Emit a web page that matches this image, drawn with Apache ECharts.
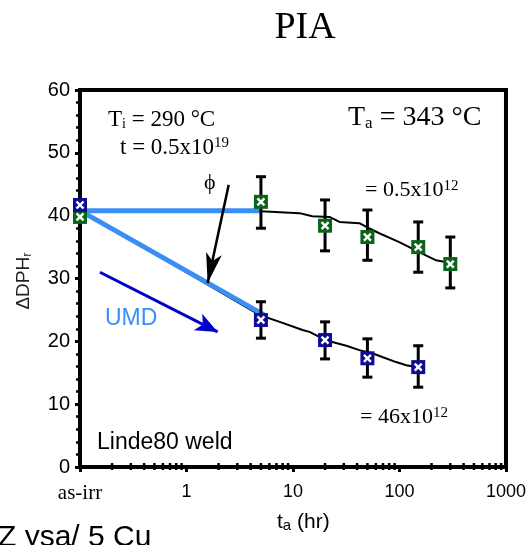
<!DOCTYPE html>
<html><head><meta charset="utf-8">
<script src="https://cdn.jsdelivr.net/npm/echarts@6/dist/echarts.min.js"></script>
<style>html,body{margin:0;padding:0;background:#fff}#c{width:529px;height:545px}</style>
</head><body><div id="c"></div>
<script>
// ---- data ----
const xTicks = [0.1, 1, 10, 100, 1000];
const xTickLabels = ['as-irr', '1', '10', '100', '1000'];
const xMinorTicks = [0.2,0.3,0.4,0.5,0.6,0.7,0.8,0.9,2,3,4,5,6,7,8,9,20,30,40,50,60,70,80,90,200,300,400,500,600,700,800,900];

// low dose rate (= 0.5x10^12), green
const lowT  = [0.1, 5, 20, 50, 150, 300];
const lowY  = [39.8, 42.2, 38.4, 36.6, 35.0, 32.3];
const lowLo = [null, 38.0, 34.4, 32.9, 31.0, 28.5];
const lowHi = [null, 46.2, 42.5, 40.9, 39.0, 36.6];

// high dose rate (= 46x10^12), blue
const highT  = [0.1, 5, 20, 50, 150];
const highY  = [41.7, 23.4, 20.2, 17.3, 15.9];
const highLo = [null, 20.5, 17.2, 14.3, 12.7];
const highHi = [null, 26.3, 23.1, 20.4, 19.3];

// model curves (black)
const lowFitT = [0.1, 5, 11.5, 15.2, 22, 27.3, 42, 48.9, 64.6, 99.6, 153, 221, 292];
const lowFitY = [40.9, 40.7, 40.4, 39.9, 39.8, 39.0, 38.8, 38.2, 37.2, 35.8, 34.2, 32.9, 32.5];
const highFitT = [0.1, 4.85, 7.5, 12.3, 14.3, 17.7, 23.4, 31.7, 42, 55.6, 68.9, 93, 116, 144];
const highFitY = [40.9, 24.2, 23.1, 21.8, 21.5, 20.7, 19.9, 19.3, 18.6, 18.1, 17.5, 16.7, 16.2, 15.9];

// UMD (light blue)
const umdFlatT = [0.1, 5];
const umdFlatY = [40.8, 40.8];
const umdDiagT = [0.1, 5.6];
const umdDiagY = [40.8, 24.0];

// annotation arrows [x, y]
const phiArrow = [[2.49, 44.9], [1.58, 29.3]];
const umdArrow = [[0.154, 31.0], [1.96, 21.5]];

// ---- build ----
const zip = (a, b) => a.map((v, i) => [v, b[i]]);
const pts = (t, y, lo, hi) => t.map((v, i) => [v, y[i], lo[i] == null ? NaN : lo[i], hi[i] == null ? NaN : hi[i]]);

function markerRender(color) {
  return function (params, api) {
    const x = api.value(0), y = api.value(1), lo = api.value(2), hi = api.value(3);
    const p = api.coord([x, y]);
    const ch = [];
    if (isFinite(lo) && isFinite(hi)) {
      const pl = api.coord([x, lo]), ph = api.coord([x, hi]);
      const ls = { stroke: '#000', lineWidth: 3 };
      ch.push({ type: 'line', shape: { x1: p[0], y1: ph[1], x2: p[0], y2: pl[1] }, style: ls });
      ch.push({ type: 'line', shape: { x1: p[0] - 5, y1: ph[1], x2: p[0] + 5, y2: ph[1] }, style: ls });
      ch.push({ type: 'line', shape: { x1: p[0] - 5, y1: pl[1], x2: p[0] + 5, y2: pl[1] }, style: ls });
    }
    ch.push({ type: 'rect', shape: { x: p[0] - 7, y: p[1] - 7, width: 14, height: 14 }, style: { fill: color } });
    const ws = { stroke: '#fff', lineWidth: 2.4 };
    ch.push({ type: 'line', shape: { x1: p[0] - 3.5, y1: p[1] - 3.5, x2: p[0] + 3.5, y2: p[1] + 3.5 }, style: ws });
    ch.push({ type: 'line', shape: { x1: p[0] + 3.5, y1: p[1] - 3.5, x2: p[0] - 3.5, y2: p[1] + 3.5 }, style: ws });
    return { type: 'group', children: ch };
  };
}

function minorTickRender(params, api) {
  const p = api.coord([api.value(0), 0]);
  return { type: 'line', shape: { x1: p[0], y1: p[1] - 4, x2: p[0], y2: p[1] + 3 }, style: { stroke: '#000', lineWidth: 2.5 } };
}

const serif = 'Liberation Serif';
const sans = 'Liberation Sans';

const chart = echarts.init(document.getElementById('c'));
chart.setOption({
  animation: false,
  backgroundColor: '#fff',
  title: {
    text: 'PIA', left: 300, top: 4, textAlign: 'center',
    textStyle: { fontFamily: serif, fontSize: 38, fontWeight: 'normal', color: '#000' }
  },
  grid: { left: 80, right: 22, top: 90, bottom: 78, show: true, borderColor: '#000', borderWidth: 4 },
  xAxis: {
    type: 'log', logBase: 10, min: 0.1, max: 1000,
    axisLine: { lineStyle: { color: '#000', width: 4 } },
    axisTick: { length: 5, lineStyle: { color: '#000', width: 3 } },
    splitLine: { show: false },
    axisLabel: {
      margin: 16, fontFamily: sans, fontSize: 18, color: '#000',
      formatter: function (v) {
        for (let i = 0; i < xTicks.length; i++) {
          if (Math.abs(Math.log10(v) - Math.log10(xTicks[i])) < 0.01) {
            return i === 0 ? '{s|' + xTickLabels[i] + '}' : xTickLabels[i];
          }
        }
        return '';
      },
      rich: { s: { fontFamily: serif, fontSize: 21, color: '#000' } }
    }
  },
  yAxis: {
    type: 'value', min: 0, max: 60, interval: 10,
    axisLine: { show: true, lineStyle: { color: '#000', width: 4 } },
    axisTick: { show: true, length: 5, lineStyle: { color: '#000', width: 3 } },
    minorTick: { show: true, splitNumber: 5, length: 4, lineStyle: { color: '#000', width: 2.5 } },
    splitLine: { show: false },
    axisLabel: { margin: 10, fontFamily: sans, fontSize: 20, color: '#000' }
  },
  series: [
    { type: 'line', data: zip(lowFitT, lowFitY), symbol: 'none', lineStyle: { color: '#000', width: 2 }, z: 2 },
    { type: 'line', data: zip(highFitT, highFitY), symbol: 'none', lineStyle: { color: '#000', width: 2 }, z: 2 },
    { type: 'line', data: zip(umdFlatT, umdFlatY), symbol: 'none', lineStyle: { color: '#3a8ef4', width: 5 }, z: 3 },
    { type: 'line', data: zip(umdDiagT, umdDiagY), symbol: 'none', lineStyle: { color: '#3a8ef4', width: 5 }, z: 3 },
    { type: 'custom', data: pts(lowT, lowY, lowLo, lowHi), renderItem: markerRender('#0a6418'), clip: false, z: 4 },
    { type: 'custom', data: pts(highT, highY, highLo, highHi), renderItem: markerRender('#0c0c94'), clip: false, z: 4 },
    { type: 'custom', data: xMinorTicks.map(v => [v]), renderItem: minorTickRender, clip: false, z: 5 },
    {
      type: 'line', data: [], z: 6,
      markLine: {
        silent: true, animation: false, symbol: ['none', 'arrow'], label: { show: false },
        data: [
          [{ coord: phiArrow[0], symbol: 'none', lineStyle: { color: '#000', width: 2.5, type: 'solid' } },
           { coord: phiArrow[1], symbol: 'arrow', symbolSize: [12, 30] }],
          [{ coord: umdArrow[0], symbol: 'none', lineStyle: { color: '#0000cc', width: 3, type: 'solid' } },
           { coord: umdArrow[1], symbol: 'arrow', symbolSize: [14, 22] }]
        ]
      }
    }
  ],
  graphic: [
    { type: 'text', left: 108, top: 108, style: {
        text: '{a|T}{b|i}{a| = 290 °C}',
        rich: { a: { fontFamily: serif, fontSize: 23, lineHeight: 23, fill: '#000' },
                b: { fontFamily: serif, fontSize: 14, lineHeight: 12, verticalAlign: 'bottom', fill: '#000' } } } },
    { type: 'text', left: 120, top: 136, style: {
        text: '{a|t = 0.5x10}{b|19}',
        rich: { a: { fontFamily: serif, fontSize: 23, lineHeight: 23, fill: '#000' },
                b: { fontFamily: serif, fontSize: 15, lineHeight: 14, verticalAlign: 'top', fill: '#000' } } } },
    { type: 'text', left: 348, top: 104, style: {
        text: '{a|T}{b|a}{a| = 343 °C}',
        rich: { a: { fontFamily: serif, fontSize: 28, lineHeight: 28, fill: '#000' },
                b: { fontFamily: serif, fontSize: 17, lineHeight: 13, verticalAlign: 'bottom', fill: '#000' } } } },
    { type: 'text', left: 365, top: 179, style: {
        text: '{a|= 0.5x10}{b|12}',
        rich: { a: { fontFamily: serif, fontSize: 22, lineHeight: 22, fill: '#000' },
                b: { fontFamily: serif, fontSize: 15, lineHeight: 14, verticalAlign: 'top', fill: '#000' } } } },
    { type: 'text', left: 360, top: 406, style: {
        text: '{a|= 46x10}{b|12}',
        rich: { a: { fontFamily: serif, fontSize: 22, lineHeight: 22, fill: '#000' },
                b: { fontFamily: serif, fontSize: 15, lineHeight: 14, verticalAlign: 'top', fill: '#000' } } } },
    { type: 'text', left: 204, top: 172, style: { text: 'ϕ', font: '22px "Liberation Serif"', fill: '#000' } },
    { type: 'text', left: 105, top: 307, style: { text: 'UMD', font: '23px "Liberation Sans"', fill: '#3a8ef4' } },
    { type: 'text', left: 97, top: 431, style: { text: 'Linde80 weld', font: '23px "Liberation Sans"', fill: '#000' } },
    { type: 'text', left: 277, top: 512, style: {
        text: '{a|t}{b|a}{a| (hr)}',
        rich: { a: { fontFamily: sans, fontSize: 21, lineHeight: 21, fill: '#000' },
                b: { fontFamily: sans, fontSize: 15, lineHeight: 12, verticalAlign: 'bottom', fill: '#000' } } } },
    { type: 'text', x: 24, y: 281, rotation: Math.PI / 2, style: {
        text: '{a|ΔDPH}{b|r}', align: 'center', verticalAlign: 'middle',
        rich: { a: { fontFamily: sans, fontSize: 19, lineHeight: 19, fill: '#222' },
                b: { fontFamily: sans, fontSize: 13, lineHeight: 10, verticalAlign: 'bottom', fill: '#222' } } } },
    { type: 'text', left: -2, top: 523, style: { text: 'Z ysa/ 5 Cu', font: '30px "Liberation Sans"', fill: '#000' } }
  ]
});
</script></body></html>
